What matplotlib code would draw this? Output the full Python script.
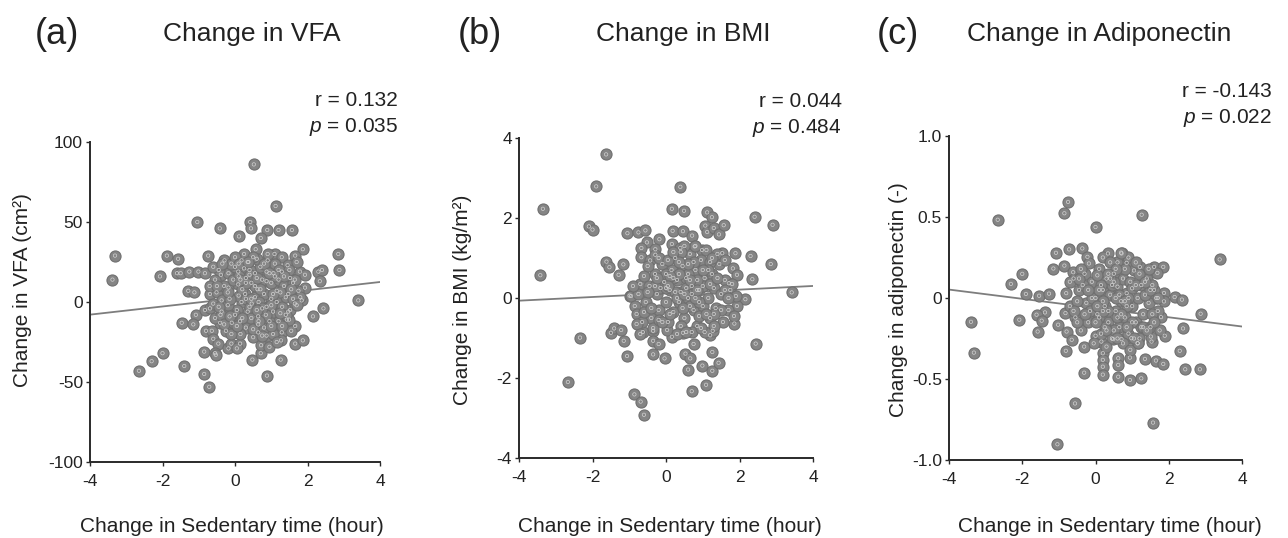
import matplotlib
matplotlib.use("Agg")
import matplotlib.pyplot as plt
import numpy as np

plt.rcParams['font.family'] = ['Liberation Sans', 'DejaVu Sans']
plt.rcParams['axes.unicode_minus'] = False
plt.rcParams['mathtext.fontset'] = 'custom'
plt.rcParams['mathtext.it'] = 'Liberation Sans:italic'
plt.rcParams['mathtext.rm'] = 'Liberation Sans'

# ---------------- data ----------------
vfa_x = [0.52, 1.12, -1.04, -0.42, 0.42, 0.44, 0.89, 1.2, 1.57, 0.11, 0.71, 0.57, 1.87, 1.66, 2.85,
         -3.31, -3.38, -1.88, -1.57, -0.74, -2.07, -1.6, -1.5, -1.26, -1.01, -0.83, 2.3, 2.4, 2.88, 2.34,
         -1.29, -1.12, 1.93, 1.84, 3.4, 2.44, 2.15, -1.08, -1.47, -1.15, 1.66, 1.29, 1.27, 1.66, 1.87,
         -0.8, -0.64, -0.6, -0.46, -0.18, -0.1, 0.14, 0.05, -0.85, -0.55, -0.53, -2.0, -2.3, -2.65, -1.4,
         -0.85, -0.71, 0.48, 0.71, 0.72, 0.87, 0.64, 1.26, 0.88, 1.43, 1.47,
         -0.29, 0.18, 0.37, 0.9, 1.09, 1.29, -0.39, -0.18, 0.09, 0.55, 0.87, 1.06, 1.29, 1.52, 1.79, 1.93,
         -0.55, -0.18, 0.09, 0.28, 0.62, 0.87, 1.15, 1.47, 1.75, -0.69, -0.51, -0.37, -0.83, -0.69, -0.37,
         -0.09, 0.18, 0.46, 0.64, 0.87, 1.15, 1.2, 1.52, 1.49, -0.41, 0.14, 0.64,
         0.0, 0.25, 0.45, 0.7, 0.3, 0.1, -0.05, 0.55, 0.75, 1.0, 1.2, 1.35, 1.6, 1.0, 0.35, 0.05, -0.2,
         -0.55, -0.25, 0.3, 0.5, 0.95, 1.05, 1.3, 1.65, 1.4, 0.8, 0.6, 0.25, -0.1, 1.45, 1.7, 0.45, 0.8,
         1.05, 0.2, -0.45, -0.6, 0.95, 0.15, 0.65, 0.4, 1.1, 0.0, -0.3, 1.25, 0.55, 0.85, 1.55, 0.3, -0.7,
         1.8, 0.75, 0.1, 0.5, 1.0, -0.15, 0.4, 1.15,
         -0.6, -0.4, -0.2, 0.0, 0.2, 0.4, 0.6, 0.8, 1.0, 1.2, 1.4, 1.6, -0.5, -0.3, -0.1, 0.1, 0.3, 0.5,
         0.7, 0.9, 1.1, 1.3, 1.5, 1.7, -0.45, -0.15, 0.15, 0.45, 0.75, 1.05, 1.35, 1.65, -0.35, 0.05,
         0.35, 0.65, 0.95, 1.25, 1.55, 0.6]
vfa_y = [86, 60, 50, 46, 50, 46, 45, 45, 45, 41, 40, 33, 33, 29, 30,
         29, 14, 29, 27, 29, 16, 18, 18, 19, 19, 18, 19, 20, 20, 13,
         7, 6, 9, 1, 1, -4, -9, -8, -13, -14, -15, -19, -24, -26, -24,
         -18, -18, -23, -26, -29, -26, -26, -29, -31, -32, -33, -32, -37, -43, -40,
         -45, -53, -36, -32, -27, -21, -19, -36, -46, -11, -6,
         26, 26, 25, 26, 30, 28, 17, 18, 19, 18, 19, 18, 19, 15, 19, 17,
         14, 9, 11, 5, 8, 13, 7, 5, 7, 5, 6, 1, -5, -4, -6,
         -13, 0, -1, -9, -3, 0, -12, -5, -11, -13, -12, -14,
         22, 21, 12, 22, 15, 4, 14, 3, 14, 12, 14, 10, 12, 2, -6, -5, -2,
         -10, -18, -16, -22, -12, -6, -3, -1, 3, 5, 27, 30, 24, 23, 25, -10, -16,
         -20, 8, 20, -1, -28, -20, 0, 20, 24, -8, 10, 6, 10, -8, -18, 2, 10,
         3, -4, 16, 28, -15, 2, -3, -25,
         22, -8, 6, 28, -10, 17, -5, 24, -2, 20, -8, 2, 10, -14, -20, 24, 12, -17,
         8, 30, 16, -15, 20, -2, -3, -9, 14, 2, -21, 5, 16, 14, 24, -15,
         25, -12, 18, -7, 8, 15]

bmi_x = [-1.63, -1.9, 0.39, -3.35, 0.16, 0.49, 1.12, 1.25, 2.41, 2.9, -2.1, -2.0, -1.05, -0.75, -0.56,
         0.18, 0.46, 0.71, 1.07, 1.12, 1.3, 1.44, 1.57, -0.18, -0.52, -0.67, -0.29, -0.67, -0.43, -0.29,
         0.16, 0.39, 0.78, 0.98, 1.53, 1.89, 2.3, -1.62, -1.54, -1.16, -1.29, -3.42, 2.85, 1.82, 1.93, 1.71,
         2.35, 3.42, -0.99, 2.16, 1.93, 1.86, 2.44, -2.34, -2.67, -1.5, -1.41, -1.22, -1.15, -1.06, -0.63,
         -0.35, -0.35, -0.2, -0.35, -0.04, -0.86, -0.69, -0.6, 0.6, 0.7, 1.09, 0.99, 1.26, 1.43, 1.26,
         0.53, 0.66, 0.75, 1.2, 1.27, 0.16, 0.03, 0.46,
         -0.95, -0.85, -0.8, -0.7, -0.6, -0.55, -0.45, -0.4, -0.3, -0.25, -0.2, -0.1, -0.05, 0.0, 0.05,
         0.1, 0.15, 0.2, 0.25, 0.3, 0.35, 0.4, 0.45, 0.5, 0.55, 0.6, 0.65, 0.7, 0.75, 0.8, 0.85, 0.9,
         0.95, 1.0, 1.05, 1.1, 1.15, 1.2, 1.25, 1.3, 1.35, 1.45, 1.5, 1.55, 1.6, 1.7, 1.75, 1.85, 1.9,
         0.2, 0.4, 0.6, 0.8, 1.0, -0.2, -0.5, 0.1, 0.3, 0.7, 1.2, 0.5, 0.0, -0.35, 0.9, 1.4, 0.25, 0.55,
         0.85, 1.15, -0.15, 0.65, 1.3, 0.45, 0.75, -0.65, 1.6, 0.35, 0.05, 1.05, -0.75,
         -0.9, -0.6, -0.3, 0.0, 0.3, 0.6, 0.9, 1.2, 1.5, 1.8, -0.8, -0.5, -0.2, 0.1, 0.4, 0.7, 1.0, 1.3,
         1.6, -0.7, -0.4, -0.1, 0.2, 0.5, 0.8, 1.1, 1.4, 1.7, 0.35, 0.65, 0.95, 1.25, -0.25, 0.05, 0.55, 0.85]
bmi_y = [3.59, 2.79, 2.78, 2.23, 2.23, 2.18, 2.14, 2.02, 2.03, 1.83, 1.79, 1.71, 1.62, 1.64, 1.69,
         1.68, 1.67, 1.56, 1.81, 1.65, 1.75, 1.59, 1.82, 1.47, 1.39, 1.25, 1.22, 1.02, 0.94, 1.08,
         1.35, 1.25, 1.29, 1.2, 1.12, 1.12, 1.05, 0.91, 0.77, 0.84, 0.58, 0.57, 0.85, 0.74, 0.58, 0.37,
         0.47, 0.14, 0.06, -0.03, -0.2, -0.64, -1.14, -0.99, -2.1, -0.87, -0.76, -0.8, -1.07, -1.45, -0.85,
         -0.82, -1.07, -1.15, -1.41, -1.51, -2.41, -2.59, -2.92, -1.79, -2.33, -2.17, -1.69, -1.82, -1.62, -1.35,
         -1.39, -1.51, -1.15, -0.93, -0.82, -0.97, -0.8, -0.87,
         0.05, -0.2, -0.4, 0.35, 0.55, -0.1, 0.3, -0.5, 0.6, 0.1, -0.3, 0.85, 0.4, -0.1, -0.6,
         0.2, 0.7, -0.35, 1.0, 0.45, -0.1, 0.15, 0.8, -0.5, 0.5, 0.0, 1.1, 0.3, -0.3, 0.7, -0.7, 0.2,
         0.95, -0.2, 0.5, 1.2, 0.0, -0.5, 0.6, 0.25, -0.25, 0.85, 0.1, -0.6, 0.45, -0.3, 0.2, -0.45, 0.05,
         0.5, -0.7, 0.6, 1.3, 0.3, 1.0, 0.8, -0.4, -0.9, -0.85, 0.9, 1.3, 0.6, -0.75, -0.45, 1.1, 0.15, 0.25,
         0.45, 0.7, 0.25, -0.2, -0.7, -0.25, 0.9, -0.6, 0.95, 0.6, 0.95, -0.85, 0.1,
         0.3, -0.35, 0.3, 0.25, 0.0, 0.85, -0.1, 0.35, -0.3, 0.35, -0.65, 0.15, -0.55, 0.55, 1.15, 0.1, 0.7, -0.4,
         0.2, -0.9, -0.25, -0.6, 1.15, 0.1, 0.0, -0.4, 0.5, 0.0, 0.9, 0.45, -0.75, 1.0, 0.5, 0.3, -0.85, 0.2]

adi_x = [-0.75, -0.85, 1.26, -2.67, 0.0, 3.39, -1.08, -0.72, -0.36, -0.22, -0.18, 0.34, 0.71, 0.85,
         -1.15, -0.85, -0.61, 1.21, 1.6, 1.85, 1.69, -2.0, -2.31, -1.9, -1.54, -1.27, -1.38, -1.61, -1.47,
         -2.08, -1.58, -3.4, -3.32, -1.02, -0.82, -0.79, -0.65, -0.81, -0.31, -0.31, -0.56, -1.04, 1.57,
         0.2, 0.2, 0.2, 0.2, 0.62, 0.62, 0.62, 0.94, 0.94, 1.25, 1.35, 1.65, 1.85, 2.3, 2.45, 2.85,
         2.39, 2.87, 1.87, 1.87, 2.16, 2.36, 1.66, 1.79, 1.89, 1.53, 1.51, 0.0, 0.16, 0.48, 0.71, 0.98, 1.15,
         -0.8, -0.7, -0.6, -0.55, -0.45, -0.4, -0.3, -0.25, -0.2, -0.1, 0.0, 0.05, 0.1, 0.15, 0.2, 0.25,
         0.3, 0.35, 0.4, 0.45, 0.5, 0.55, 0.6, 0.65, 0.7, 0.75, 0.8, 0.85, 0.9, 0.95, 1.0, 1.05, 1.1, 1.15,
         1.2, 1.25, 1.3, 1.4, 1.45, 1.5, 1.6, 1.7, 1.75, 0.2, 0.6, 0.9, 0.3, 0.75, 1.1, -0.05, 0.45, 0.65,
         0.85, 0.15, 0.35, 0.55, 1.0, 1.25, -0.35, 0.05, 0.8, 1.35, 0.5, 0.25, -0.15, 1.55, 0.95, 0.1, 0.7,
         1.15, -0.5, 0.4, 1.45, 0.6, 0.2,
         -0.7, -0.5, -0.3, -0.1, 0.1, 0.3, 0.5, 0.7, 0.9, 1.1, 1.3, 1.5, 1.7, -0.6, -0.4, -0.2, 0.0,
         0.2, 0.4, 0.6, 0.8, 1.0, 1.2, 1.4, 1.6, -0.45, 0.05, 0.55, 1.05, 1.55, 0.35, 0.85, 1.35]
adi_y = [0.593, 0.523, 0.514, 0.483, 0.438, 0.238, 0.279, 0.30, 0.306, 0.254, 0.213, 0.275, 0.275, 0.217,
         0.182, 0.2, 0.159, 0.192, 0.192, 0.192, 0.155, 0.149, 0.087, 0.025, 0.014, 0.027, -0.089, -0.103, -0.14,
         -0.134, -0.207, -0.147, -0.337, -0.165, -0.093, -0.207, -0.258, -0.326, -0.3, -0.461, -0.651, -0.903, -0.769,
         -0.341, -0.382, -0.424, -0.473, -0.372, -0.413, -0.486, -0.368, -0.506, -0.496, -0.376, -0.386, -0.407, -0.326, -0.44, -0.44,
         -0.188, -0.097, 0.031, -0.021, 0.006, -0.01, 0.0, -0.118, -0.233, -0.269, -0.238, -0.233, -0.269, -0.254, -0.254, -0.248, -0.279,
         0.03, -0.05, 0.12, -0.12, 0.05, -0.2, 0.15, -0.03, -0.15, 0.1, 0.0, -0.1, 0.18, -0.22, 0.05, -0.05,
         0.12, -0.15, 0.02, -0.25, 0.15, -0.08, 0.07, -0.18, -0.02, 0.12, -0.12, 0.03, -0.22, 0.1, -0.05, 0.17, -0.15, 0.0,
         -0.25, 0.08, -0.1, 0.12, -0.03, -0.18, 0.05, -0.08, -0.2, 0.25, 0.22, 0.25, -0.3, -0.28, 0.22, -0.28, 0.08, 0.02,
         -0.05, 0.08, -0.08, 0.0, 0.06, -0.18, 0.08, 0.14, 0.18, 0.02, -0.2, -0.18, -0.08, -0.1, -0.32, -0.12, 0.28,
         -0.28, -0.02, 0.22, 0.18, -0.12, -0.02,
         0.1, -0.15, -0.1, 0.0, 0.05, -0.2, 0.1, -0.1, 0.0, 0.08, -0.18, 0.05, 0.0, -0.08, 0.18, 0.05, -0.15,
         -0.08, 0.12, -0.25, -0.02, -0.15, 0.15, -0.2, -0.15, 0.12, -0.05, 0.18, -0.25, 0.08, 0.15, -0.18, 0.1]

# regression lines (intercept, slope)
fit_intercepts = [2.3, 0.117, -0.062]
fit_slopes = [2.55, 0.046, -0.0285]

panel_letters = ['(a)', '(b)', '(c)']
titles = ['Change in VFA', 'Change in BMI', 'Change in Adiponectin']
ylabels = ['Change in VFA (cm²)', 'Change in BMI (kg/m²)', 'Change in adiponectin (-)']
xlabel = 'Change in Sedentary time (hour)'
r_texts = ['r = 0.132', 'r = 0.044', 'r = -0.143']
p_texts = ['$p$ = 0.035', '$p$ = 0.484', '$p$ = 0.022']
xticks = [-4, -2, 0, 2, 4]
yticks_list = [[-100, -50, 0, 50, 100], [-4, -2, 0, 2, 4], [-1.0, -0.5, 0, 0.5, 1.0]]
ytick_labels = [['-100', '-50', '0', '50', '100'], ['-4', '-2', '0', '2', '4'],
                ['-1.0', '-0.5', '0', '0.5', '1.0']]
ylims = [(-100, 100), (-4, 4), (-1.0, 1.0)]

xs = [vfa_x, bmi_x, adi_x]
ys = [vfa_y, bmi_y, adi_y]

# ---------------- layout ----------------
W, H = 1288, 538
fig = plt.figure(figsize=(W / 100, H / 100), dpi=100)

# axes boxes in pixels: left, right, top, bottom
boxes = [(90, 380, 142, 462), (519, 813, 138, 458), (949, 1242, 136, 460)]
letter_x = [35, 458, 877]
title_cx = [252, 683, 1099]
rp_right = [398, 842, 1272]
r_base = [106, 107, 97]
ylab_x = [23, 462, 898]
ylab_y = [290, 300, 300]
xlab_cx = [232, 670, 1110]

for i in range(3):
    l, r, t, b = boxes[i]
    ax = fig.add_axes([l / W, 1 - b / H, (r - l) / W, (b - t) / H])
    x = np.array(xs[i], dtype=float)
    y = np.array(ys[i], dtype=float)
    xx = np.array([-4.0, 4.0])
    ax.plot(xx, fit_intercepts[i] + fit_slopes[i] * xx, color='#7d7d7d', lw=1.3, zorder=1)
    ax.scatter(x, y, s=64, facecolor='#858585', edgecolor='#707070', linewidth=0.8, zorder=2)
    ax.scatter(x, y, s=6, facecolor='none', edgecolor='#d2d2d2', linewidth=0.5, zorder=3)
    ax.set_xlim(-4, 4)
    ax.set_ylim(*ylims[i])
    ax.set_xticks(xticks)
    ax.set_xticklabels([str(v) for v in xticks])
    ax.set_yticks(yticks_list[i])
    ax.set_yticklabels(ytick_labels[i])
    for s in ['top', 'right']:
        ax.spines[s].set_visible(False)
    for s in ['left', 'bottom']:
        ax.spines[s].set_linewidth(1.4)
        ax.spines[s].set_color('#2a2a2a')
    ax.tick_params(axis='both', direction='out', length=3, width=1.0, color='#2a2a2a',
                   labelsize=12.5, labelcolor='#222222')
    ax.tick_params(axis='x', pad=6)
    ax.tick_params(axis='y', pad=2)
    ax.set_facecolor('none')

    fig.text(letter_x[i] / W, 1 - 34 / H, panel_letters[i], fontsize=26, ha='left', va='center',
             color='#222222')
    fig.text(title_cx[i] / W, 1 - 34 / H, titles[i], fontsize=19, ha='center', va='center',
             color='#222222')
    fig.text(rp_right[i] / W, 1 - r_base[i] / H, r_texts[i], fontsize=15, ha='right',
             va='baseline', color='#222222')
    fig.text(rp_right[i] / W, 1 - (r_base[i] + 26) / H, p_texts[i], fontsize=15, ha='right',
             va='baseline', color='#222222')
    fig.text(ylab_x[i] / W, 1 - ylab_y[i] / H, ylabels[i], fontsize=15, rotation=90,
             ha='center', va='center', color='#222222')
    fig.text(xlab_cx[i] / W, 1 - 526 / H, xlabel, fontsize=15, ha='center', va='center',
             color='#222222')

fig.savefig('out.png', dpi=100, facecolor='white')
